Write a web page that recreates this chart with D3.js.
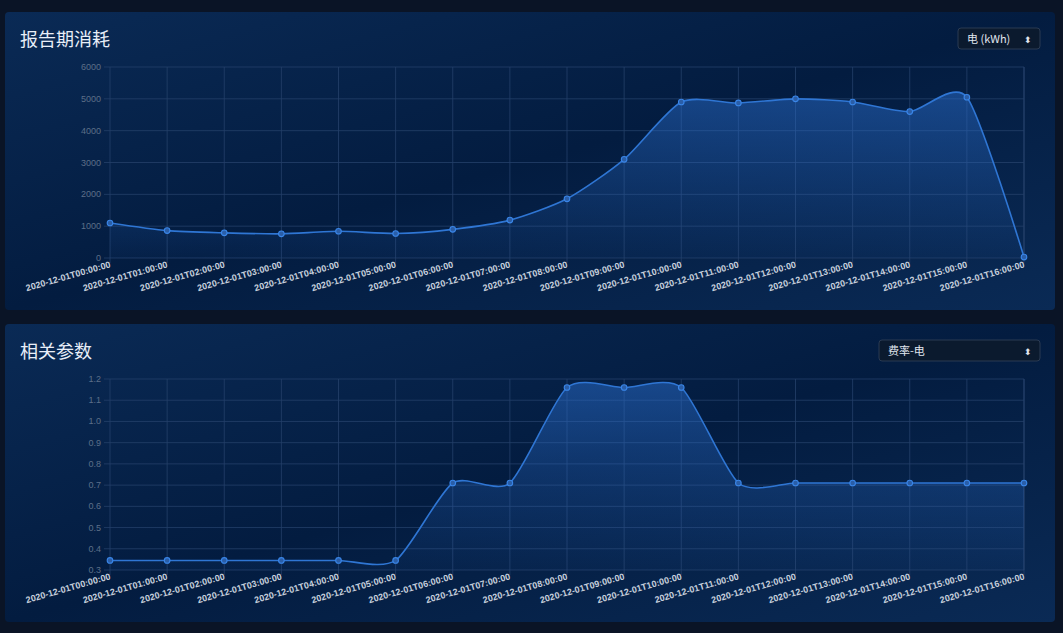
<!DOCTYPE html><html><head><meta charset="utf-8">
<script src="https://cdn.jsdelivr.net/npm/d3@7"></script>
<style>body{margin:0;background:#0a1426;width:1063px;height:633px;overflow:hidden;font-family:"Noto Sans CJK SC","Noto Sans",sans-serif}</style></head><body>
<svg id="c" width="1063" height="633"></svg>
<script>
const categories=["2020-12-01T00:00:00","2020-12-01T01:00:00","2020-12-01T02:00:00","2020-12-01T03:00:00","2020-12-01T04:00:00","2020-12-01T05:00:00","2020-12-01T06:00:00","2020-12-01T07:00:00","2020-12-01T08:00:00","2020-12-01T09:00:00","2020-12-01T10:00:00","2020-12-01T11:00:00","2020-12-01T12:00:00","2020-12-01T13:00:00","2020-12-01T14:00:00","2020-12-01T15:00:00","2020-12-01T16:00:00"];
const consumption=[1100,860,790,760,840,770,900,1190,1860,3100,4900,4870,5000,4900,4600,5050,30];
const tariff=[0.345,0.345,0.345,0.345,0.345,0.345,0.71,0.71,1.16,1.16,1.16,0.71,0.71,0.71,0.71,0.71,0.71];
const ticks1=[0,1000,2000,3000,4000,5000,6000];
const ticks2=[0.3,0.4,0.5,0.6,0.7,0.8,0.9,1.0,1.1,1.2];
const svg=d3.select("#c");
const defs=svg.append("defs");
const bg=defs.append("linearGradient").attr("id","bg").attr("x1",0).attr("y1",0).attr("x2",1).attr("y2",1);
bg.append("stop").attr("offset",0).attr("stop-color","#0a2a55");
bg.append("stop").attr("offset",0.5).attr("stop-color","#031c40");
bg.append("stop").attr("offset",1).attr("stop-color","#0a2a55");
const ag=defs.append("linearGradient").attr("id","ag").attr("x1",0).attr("y1",0).attr("x2",0).attr("y2",1);
ag.append("stop").attr("offset",0).attr("stop-color","#2a6fd0").attr("stop-opacity",0.5);
ag.append("stop").attr("offset",1).attr("stop-color","#2a6fd0").attr("stop-opacity",0.05);
function panel(top,title,sel,selW,data,ticks,dom,fmt){
  svg.append("rect").attr("x",5).attr("y",top).attr("width",1050).attr("height",298).attr("rx",4).attr("fill","url(#bg)");
  svg.append("text").attr("x",20).attr("y",top+34).attr("fill","#e8eef8").attr("font-size",18).text(title);
  const sx=1040-selW;
  svg.append("rect").attr("x",sx).attr("y",top+16).attr("width",selW).attr("height",21).attr("rx",3).attr("fill","#0b1a2e").attr("stroke","#2a3a52");
  svg.append("text").attr("x",sx+9).attr("y",top+31).attr("fill","#e0e6ee").attr("font-size",11).text(sel);
  svg.append("text").attr("x",1040-12).attr("y",top+31).attr("fill","#e0e6ee").attr("font-size",9).attr("text-anchor","middle").text("⬍");
  const y0=top+55,y1=top+246;
  const x=d3.scalePoint().domain(categories).range([110,1024]);
  const y=d3.scaleLinear().domain(dom).range([y1,y0]);
  const g=svg.append("g");
  g.selectAll(".h").data(ticks).join("line").attr("x1",104).attr("x2",1024).attr("y1",d=>y(d)).attr("y2",d=>y(d)).attr("stroke","#25406a").attr("stroke-width",0.8);
  g.selectAll(".v").data(categories).join("line").attr("x1",d=>x(d)).attr("x2",d=>x(d)).attr("y1",y0).attr("y2",y1+5).attr("stroke","#25406a").attr("stroke-width",0.8);
  g.append("line").attr("x1",1024).attr("x2",1024).attr("y1",y0).attr("y2",y1).attr("stroke","#25406a");
  g.selectAll(".yl").data(ticks).join("text").attr("x",101).attr("y",d=>y(d)+3).attr("text-anchor","end").attr("fill","#5d6f88").attr("font-size",9).attr("font-family","Liberation Sans,Arial").text(fmt);
  g.selectAll(".xl").data(categories).join("text").attr("transform",d=>`translate(${x(d)+1},${y1+9}) rotate(-16)`).attr("text-anchor","end").attr("fill","#c6cfdc").attr("font-size",9).attr("font-weight","bold").attr("font-family","Liberation Sans,Arial").text(d=>d);
  const curve=d3.curveCardinal.tension(0.3);
  const area=d3.area().x((d,i)=>x(categories[i])).y0(y1).y1(d=>y(d)).curve(curve);
  const line=d3.line().x((d,i)=>x(categories[i])).y(d=>y(d)).curve(curve);
  g.append("path").attr("d",area(data)).attr("fill","url(#ag)");
  g.append("path").attr("d",line(data)).attr("fill","none").attr("stroke","#2f76d4").attr("stroke-width",1.6);
  g.selectAll(".p").data(data).join("circle").attr("cx",(d,i)=>x(categories[i])).attr("cy",d=>y(d)).attr("r",2.8).attr("fill","#2a5ea8").attr("stroke","#3a86e8").attr("stroke-width",1.1);
}
panel(12,"报告期消耗","电 (kWh)",82,consumption,ticks1,[0,6000],d=>d);
panel(324,"相关参数","费率-电",161,tariff,ticks2,[0.3,1.2],d=>d.toFixed(1));
</script></body></html>
